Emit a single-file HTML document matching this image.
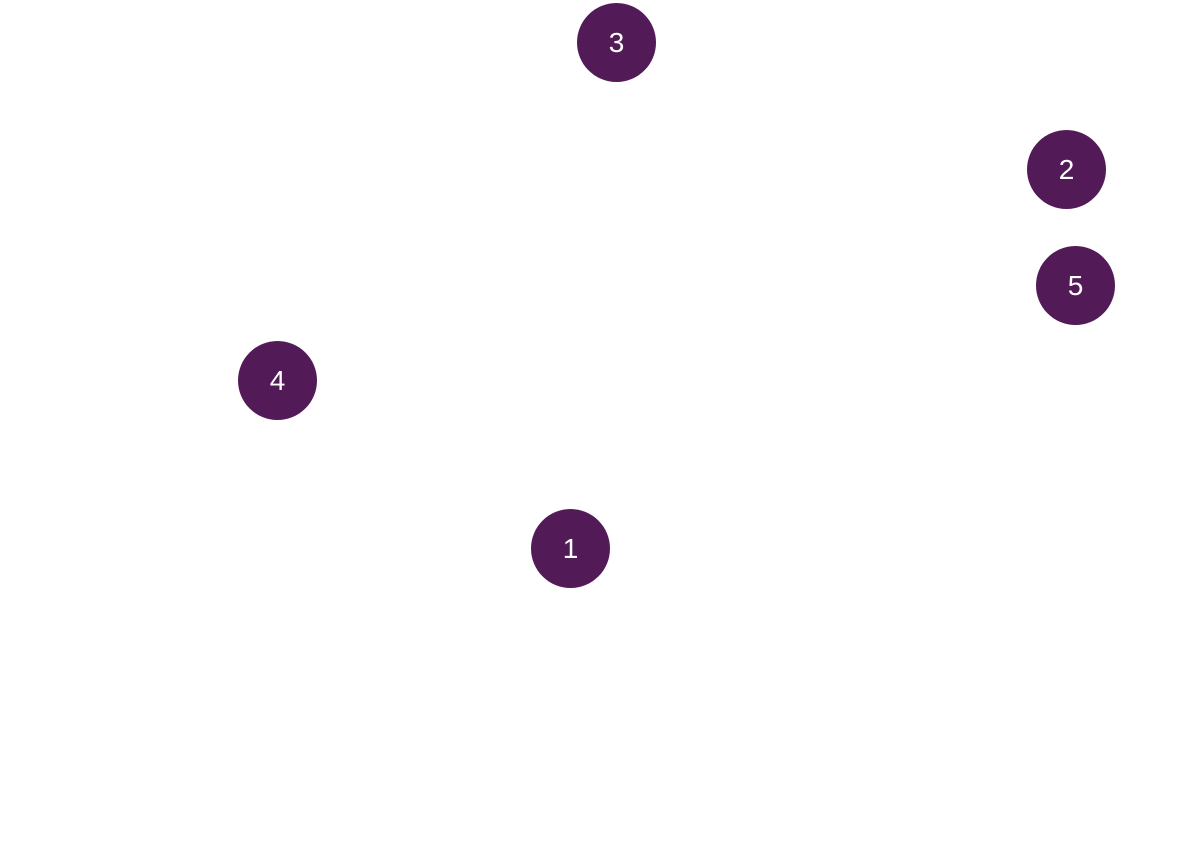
<!DOCTYPE html>
<html><head><style>
body{margin:0;width:1197px;height:865px;background:#fff;position:relative;overflow:hidden}
.c{position:absolute;width:79px;height:79px;border-radius:50%;background:#521b57;color:#fff;font:28px "Liberation Sans",sans-serif;display:flex;align-items:center;justify-content:center}
</style></head><body>
<div class="c" style="left:577px;top:3px">3</div>
<div class="c" style="left:1027px;top:130px">2</div>
<div class="c" style="left:1036px;top:246px">5</div>
<div class="c" style="left:238px;top:341px">4</div>
<div class="c" style="left:531px;top:509px">1</div>
</body></html>
